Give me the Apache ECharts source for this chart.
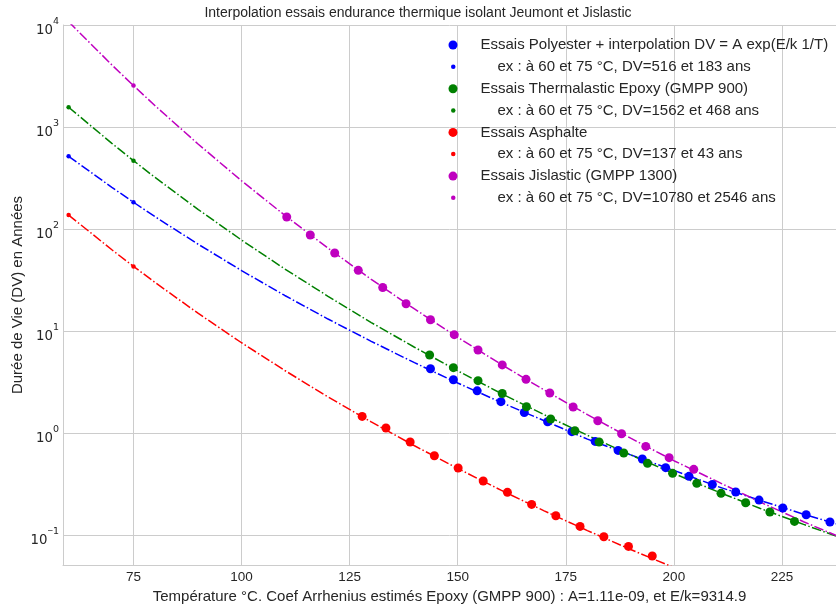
<!DOCTYPE html>
<html><head><meta charset="utf-8">
<script src="https://cdn.jsdelivr.net/npm/echarts@6/dist/echarts.min.js"></script>
<style>html,body{margin:0;padding:0;background:#fff}#c{width:836px;height:605px}</style>
</head><body><div id="c"></div>
<script>
// ---- data ----
const lineTemps = [60,70,75,80,90,100,110,120,130,140,150,160,170,180,190,200,210,220,230,238];
const polyLine   = [516,256,183,132,70.7,39.1,22.3,13.1,7.92,4.89,3.09,2.00,1.32,0.87,0.61,0.43,0.30,0.218,0.16,0.127];
const epoxyLine  = [1562,691,468,320,155,77.9,40.6,21.9,12.1,6.93,4.07,2.45,1.51,0.95,0.61,0.40,0.267,0.182,0.127,0.096];
const jisLine    = [10780,4062,2546,1617,677,297,136.3,64.9,32.1,16.44,8.68,4.72,2.64,1.513,0.89,0.535,0.335,0.21,0.135,0.097];
const redLineTemps = [60,70,75,80,90,100,110,120,130,140,150,160,170,180,190,200];
const asphLine   = [137,62.6,43,29.9,14.85,7.67,4.10,2.26,1.284,0.75,0.449,0.275,0.1726,0.1105,0.0721,0.0479];

const polyTestT  = [143.7,149.0,154.5,160.0,165.4,170.8,176.4,181.8,187.1,192.7,198.1,203.5,208.9,214.3,219.7,225.2,230.6,236.1];
const polyTestDV = [4.27,3.33,2.59,2.03,1.59,1.29,1.03,0.827,0.675,0.556,0.457,0.376,0.313,0.264,0.220,0.184,0.158,0.134];
const epoxyTestT  = [143.5,149.0,154.7,160.3,165.9,171.5,177.1,182.7,188.4,193.9,199.7,205.3,210.9,216.6,222.2,227.9];
const epoxyTestDV = [5.82,4.37,3.26,2.44,1.81,1.37,1.053,0.816,0.637,0.504,0.402,0.321,0.256,0.207,0.168,0.136];
const asphTestT  = [127.9,133.4,139.0,144.6,150.1,155.9,161.5,167.1,172.7,178.3,183.8,189.5,195.0];
const asphTestDV = [1.455,1.119,0.816,0.599,0.454,0.338,0.262,0.1995,0.1546,0.1214,0.0962,0.0773,0.0622];
const jisTestT  = [110.45,115.9,121.55,127.0,132.65,138.05,143.7,149.2,154.7,160.3,165.8,171.3,176.7,182.4,187.9,193.5,198.9,204.6];
const jisTestDV = [131.2,87.4,58.2,39.3,26.7,18.5,12.9,9.20,6.51,4.65,3.36,2.47,1.80,1.320,0.984,0.739,0.573,0.440];

const exTemps = [60,75];
const polyEx = [516,183];
const epoxyEx = [1562,468];
const asphEx = [137,43];
const jisEx = [10780,2546];

const names = {
  poly: 'Essais Polyester + interpolation DV = A exp(E/k 1/T)',
  polyEx: 'ex : à 60 et 75 °C, DV=516 et 183 ans',
  epoxy: 'Essais Thermalastic Epoxy (GMPP 900)',
  epoxyEx: 'ex : à 60 et 75 °C, DV=1562 et 468 ans',
  asph: 'Essais Asphalte',
  asphEx: 'ex : à 60 et 75 °C, DV=137 et 43 ans',
  jis: 'Essais Jislastic (GMPP 1300)',
  jisEx: 'ex : à 60 et 75 °C, DV=10780 et 2546 ans'
};
const xTitle = 'Température °C. Coef Arrhenius estimés Epoxy (GMPP 900) : A=1.11e-09, et E/k=9314.9';
const yTitle = 'Durée de Vie (DV) en Années';
const chartTitle = 'Interpolation essais endurance thermique isolant Jeumont et Jislastic';

// ---- styling ----
const F = '"Liberation Sans", Arial, sans-serif';
const FM = '"DejaVu Sans", sans-serif';
const TXT = '#262626';
const GRID = '#cccccc';
const C = {poly:'#0000ff', epoxy:'#008000', asph:'#ff0000', jis:'#bf00bf'};
const zip = (a,b) => a.map((v,i)=>[v,b[i]]);
const dashDot = [9.6,2.4,1.5,2.4];

function lineSeries(color, t, v){
  return {type:'line', data: zip(t,v), showSymbol:false, symbol:'none', silent:true,
    lineStyle:{color, width:1.5, type:dashDot}, z:2, clip:true};
}
function scatter(name, color, t, v, size){
  return {type:'scatter', name, data: zip(t,v), symbol:'circle', symbolSize:size,
    itemStyle:{color, opacity:1}, z:3, clip:true};
}

const series = [
  lineSeries(C.poly, lineTemps, polyLine),
  scatter(names.poly, C.poly, polyTestT, polyTestDV, 9),
  scatter(names.polyEx, C.poly, exTemps, polyEx, 4.5),
  lineSeries(C.epoxy, lineTemps, epoxyLine),
  scatter(names.epoxy, C.epoxy, epoxyTestT, epoxyTestDV, 9),
  scatter(names.epoxyEx, C.epoxy, exTemps, epoxyEx, 4.5),
  lineSeries(C.asph, redLineTemps, asphLine),
  scatter(names.asph, C.asph, asphTestT, asphTestDV, 9),
  scatter(names.asphEx, C.asph, exTemps, asphEx, 4.5),
  lineSeries(C.jis, lineTemps, jisLine),
  scatter(names.jis, C.jis, jisTestT, jisTestDV, 9),
  scatter(names.jisEx, C.jis, exTemps, jisEx, 4.5)
];

const legendBase = {orient:'vertical', padding:0, selectedMode:false,
  textStyle:{fontSize:15, color:TXT, fontFamily:F, lineHeight:18}};

const option = {
  backgroundColor:'#ffffff',
  animation:false,
  title:{text:chartTitle, left:'center', top:6, padding:[0,0,0,63],
    textStyle:{fontSize:14, fontWeight:'normal', color:TXT, fontFamily:F}},
  legend:[
    Object.assign({}, legendBase, {left:448.5, top:36, itemWidth:9, itemHeight:9, itemGap:25.7,
      data:[names.poly, names.epoxy, names.asph, names.jis],
      textStyle:Object.assign({}, legendBase.textStyle, {padding:[0,0,0,18]})}),
    Object.assign({}, legendBase, {left:451, top:57.7, itemWidth:4.5, itemHeight:4.5, itemGap:25.7,
      data:[names.polyEx, names.epoxyEx, names.asphEx, names.jisEx],
      textStyle:Object.assign({}, legendBase.textStyle, {padding:[0,0,0,37]})})
  ],
  grid:{left:63, right:0, top:25, bottom:40, containLabel:false, outerBoundsMode:'none'},
  xAxis:{type:'value', min:58.7, max:237.5, minInterval:25, maxInterval:25, splitNumber:7,
    name:xTitle, nameLocation:'middle', nameGap:18,
    nameTextStyle:{fontSize:15, color:TXT, fontFamily:F},
    axisLine:{show:true, lineStyle:{color:GRID, width:1}}, axisTick:{show:false},
    splitLine:{show:true, lineStyle:{color:GRID, width:1}},
    axisLabel:{showMinLabel:false, showMaxLabel:false, fontSize:13.5, color:TXT, fontFamily:F, margin:5}},
  yAxis:{type:'log', logBase:10, min:0.0508, max:10000,
    name:yTitle, nameLocation:'middle', nameGap:38, nameMoveOverlap:false,
    nameTextStyle:{fontSize:15, color:TXT, fontFamily:F},
    axisLine:{show:true, lineStyle:{color:GRID, width:1}}, axisTick:{show:false},
    splitLine:{show:true, lineStyle:{color:GRID, width:1}},
    minorTick:{show:false}, minorSplitLine:{show:false},
    axisLabel:{showMinLabel:false, margin:4, padding:[4,0,0,0],
      formatter:function(v){ const e=Math.round(Math.log10(v));
        return '{b|10}' + (e<0 ? '{m|\u2212}{s|'+(-e)+'}' : '{s|'+e+'}'); },
      rich:{b:{fontSize:13.3, color:TXT, fontFamily:FM, lineHeight:21, verticalAlign:'bottom'},
            s:{fontSize:9.5, color:TXT, fontFamily:FM, lineHeight:12, verticalAlign:'top'},
            m:{fontSize:9.5, color:TXT, fontFamily:F, lineHeight:12, verticalAlign:'top'}}}},
  series
};
const chart = echarts.init(document.getElementById('c'), null, {renderer:'canvas'});
chart.setOption(option);
</script></body></html>
